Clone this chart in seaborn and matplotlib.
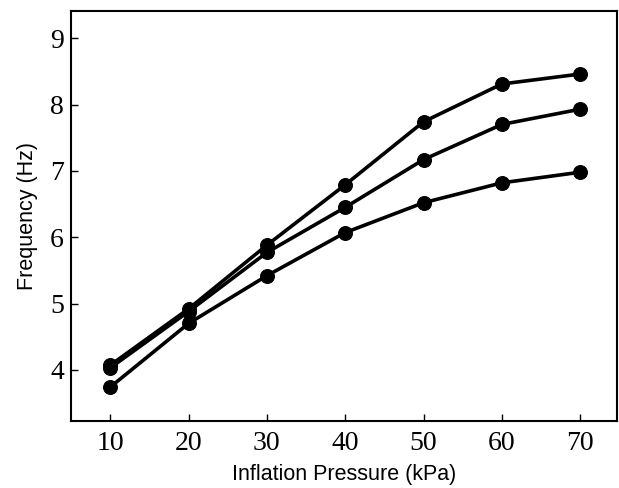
import matplotlib
matplotlib.use("Agg")
import matplotlib.pyplot as plt
import seaborn as sns
import pandas as pd

pressure = [10, 20, 30, 40, 50, 60, 70]
freq_high = [4.07, 4.92, 5.88, 6.79, 7.74, 8.31, 8.46]
freq_mid = [4.03, 4.88, 5.77, 6.45, 7.17, 7.70, 7.93]
freq_low = [3.74, 4.70, 5.42, 6.07, 6.52, 6.82, 6.98]
series_names = ["A", "B", "C"]

rows = []
for name, vals in zip(series_names, [freq_high, freq_mid, freq_low]):
    for p, f in zip(pressure, vals):
        rows.append({"series": name, "pressure": p, "freq": f})
df = pd.DataFrame(rows)

sns.set_style("ticks", {"text.color": "black", "axes.labelcolor": "black",
                        "xtick.color": "black", "ytick.color": "black",
                        "axes.edgecolor": "black"})
fig = plt.figure(figsize=(6.19, 4.88), dpi=100)
ax = fig.add_axes([71/619, 1-421/488, (617-71)/619, (421-11)/488])
sns.lineplot(data=df, x="pressure", y="freq", hue="series",
             palette=["black"]*3, marker="o", markersize=10, linewidth=2.6,
             markeredgecolor="black", legend=False, ax=ax)
ax.set_xlim(5, 74.7)
ax.set_ylim(3.23, 9.41)
ax.set_xticks(pressure)
ax.set_yticks([4, 5, 6, 7, 8, 9])
ax.tick_params(direction="in", length=5, width=1, labelsize=20, colors="black")
ax.tick_params(axis="x", pad=7)
ax.tick_params(axis="y", pad=5)
for lab in ax.get_xticklabels() + ax.get_yticklabels():
    lab.set_family("Liberation Serif")
for s in ax.spines.values():
    s.set_linewidth(1.5)
    s.set_color("black")
ax.set_xlabel("Inflation Pressure (kPa)", family="Liberation Sans", fontsize=15.5,
              labelpad=6, color="black")
ax.set_ylabel("Frequency (Hz)", family="Liberation Sans", fontsize=15.5,
              labelpad=9, color="black")
fig.savefig("out.png", dpi=100)
